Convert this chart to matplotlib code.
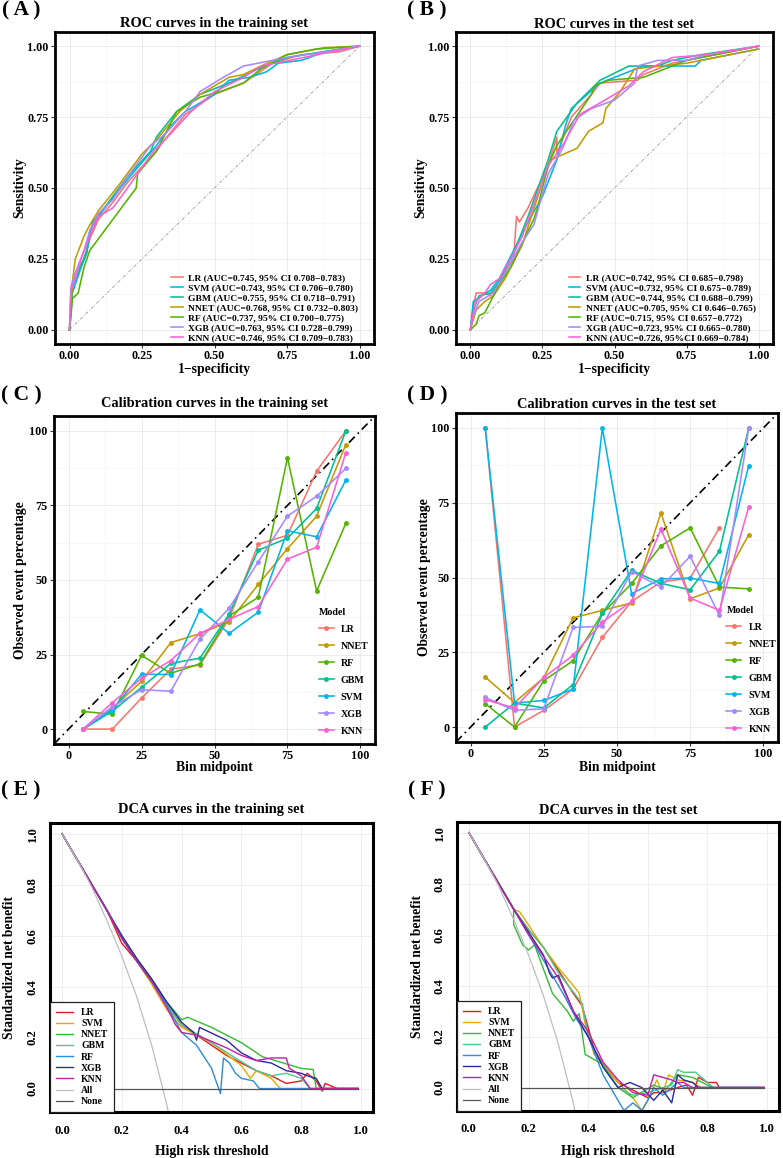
"""
ROC / 校准 / DCA 六联图。
"""

import matplotlib
matplotlib.use("Agg")
import matplotlib.pyplot as plt
from matplotlib.ticker import MultipleLocator

plt.rcParams['font.family'] = ['Liberation Serif', 'DejaVu Serif']
plt.rcParams['font.weight'] = 'bold'
plt.rcParams['axes.unicode_minus'] = True

W, H = 783, 1158

# ---------------- 数据 ----------------
models_roc = ['LR', 'SVM', 'GBM', 'NNET', 'RF', 'XGB', 'KNN']
auc_train = ['AUC=0.745, 95% CI 0.708−0.783', 'AUC=0.743, 95% CI 0.706−0.780',
             'AUC=0.755, 95% CI 0.718−0.791', 'AUC=0.768, 95% CI 0.732−0.803',
             'AUC=0.737, 95% CI 0.700−0.775', 'AUC=0.763, 95% CI 0.728−0.799',
             'AUC=0.746, 95% CI 0.709−0.783']
auc_test = ['AUC=0.742, 95% CI 0.685−0.798', 'AUC=0.732, 95% CI 0.675−0.789',
            'AUC=0.744, 95% CI 0.688−0.799', 'AUC=0.705, 95% CI 0.646−0.765',
            'AUC=0.715, 95% CI 0.657−0.772', 'AUC=0.723, 95% CI 0.665−0.780',
            'AUC=0.726, 95%CI 0.669−0.784']

gg_col = {'LR': '#F8766D', 'NNET': '#C49A00', 'RF': '#53B400', 'GBM': '#00C094',
          'SVM': '#00B6EB', 'XGB': '#A58AFF', 'KNN': '#FB61D7'}

# 训练集 ROC (fpr, tpr)
roc_train_fpr = {
    'LR': [0, 0.005, 0.02, 0.05, 0.07, 0.1, 0.15, 0.2, 0.3, 0.32, 0.4, 0.5, 0.6, 0.7, 0.8, 0.93, 1],
    'SVM': [0, 0.005, 0.01, 0.04, 0.06, 0.07, 0.1, 0.2, 0.3, 0.35, 0.4, 0.5, 0.55, 0.62, 0.68, 0.72, 0.8, 0.88, 1],
    'GBM': [0, 0.01, 0.03, 0.06, 0.08, 0.12, 0.2, 0.28, 0.3, 0.37, 0.45, 0.55, 0.65, 0.75, 0.87, 1],
    'NNET': [0, 0.01, 0.02, 0.05, 0.07, 0.1, 0.17, 0.25, 0.3, 0.38, 0.45, 0.55, 0.6, 0.66, 0.75, 0.88, 1],
    'RF': [0, 0.01, 0.03, 0.05, 0.07, 0.15, 0.23, 0.235, 0.3, 0.37, 0.45, 0.52, 0.6, 0.66, 0.75, 0.85, 1],
    'XGB': [0, 0.005, 0.02, 0.05, 0.07, 0.1, 0.15, 0.2, 0.28, 0.33, 0.4, 0.45, 0.53, 0.6, 0.75, 0.88, 1],
    'KNN': [0, 0.005, 0.02, 0.04, 0.07, 0.1, 0.15, 0.2, 0.29, 0.32, 0.42, 0.5, 0.6, 0.66, 0.76, 0.9, 1],
}
roc_train_tpr = {
    'LR': [0, 0.12, 0.2, 0.25, 0.32, 0.39, 0.45, 0.52, 0.63, 0.66, 0.76, 0.83, 0.87, 0.94, 0.97, 0.98, 1],
    'SVM': [0, 0.05, 0.13, 0.22, 0.27, 0.35, 0.4, 0.53, 0.65, 0.72, 0.77, 0.83, 0.88, 0.89, 0.91, 0.94, 0.95, 0.98, 1],
    'GBM': [0, 0.15, 0.2, 0.28, 0.38, 0.43, 0.54, 0.63, 0.68, 0.77, 0.83, 0.87, 0.92, 0.96, 0.98, 1],
    'NNET': [0, 0.17, 0.25, 0.33, 0.37, 0.42, 0.51, 0.62, 0.67, 0.77, 0.83, 0.89, 0.9, 0.93, 0.97, 0.995, 1],
    'RF': [0, 0.11, 0.13, 0.22, 0.28, 0.39, 0.5, 0.55, 0.63, 0.77, 0.82, 0.84, 0.87, 0.92, 0.97, 0.99, 1],
    'XGB': [0, 0.15, 0.2, 0.28, 0.35, 0.41, 0.46, 0.54, 0.65, 0.69, 0.77, 0.84, 0.89, 0.93, 0.96, 0.98, 1],
    'KNN': [0, 0.14, 0.18, 0.25, 0.33, 0.4, 0.43, 0.5, 0.63, 0.66, 0.77, 0.84, 0.89, 0.93, 0.95, 0.98, 1],
}

# 测试集 ROC
roc_test_fpr = {
    'LR': [0, 0.01, 0.02, 0.05, 0.07, 0.1, 0.15, 0.16, 0.17, 0.2, 0.27, 0.3, 0.3, 0.35, 0.42, 0.45, 0.58, 0.6, 0.7, 0.85, 1],
    'SVM': [0, 0.01, 0.04, 0.07, 0.1, 0.15, 0.2, 0.25, 0.3, 0.33, 0.35, 0.45, 0.55, 0.6, 0.78, 0.8, 1],
    'GBM': [0, 0.01, 0.03, 0.07, 0.1, 0.15, 0.2, 0.27, 0.3, 0.37, 0.45, 0.55, 0.65, 0.7, 0.8, 1],
    'NNET': [0, 0.02, 0.05, 0.08, 0.12, 0.18, 0.25, 0.28, 0.37, 0.41, 0.46, 0.47, 0.52, 0.57, 0.75, 0.85, 1],
    'RF': [0, 0.02, 0.03, 0.05, 0.07, 0.1, 0.14, 0.22, 0.23, 0.27, 0.3, 0.42, 0.43, 0.48, 0.6, 0.7, 0.75, 0.85, 1],
    'XGB': [0, 0.01, 0.03, 0.08, 0.12, 0.18, 0.22, 0.27, 0.32, 0.36, 0.42, 0.5, 0.57, 0.58, 0.65, 0.75, 0.82, 1],
    'KNN': [0, 0.01, 0.02, 0.05, 0.07, 0.1, 0.15, 0.18, 0.27, 0.32, 0.38, 0.45, 0.55, 0.6, 0.7, 0.82, 1],
}
roc_test_tpr = {
    'LR': [0, 0.08, 0.13, 0.13, 0.12, 0.17, 0.25, 0.4, 0.38, 0.43, 0.58, 0.68, 0.62, 0.75, 0.83, 0.87, 0.88, 0.9, 0.94, 0.97, 1],
    'SVM': [0, 0.1, 0.12, 0.14, 0.18, 0.28, 0.38, 0.47, 0.6, 0.72, 0.78, 0.87, 0.91, 0.93, 0.93, 0.95, 0.99],
    'GBM': [0, 0.07, 0.12, 0.13, 0.17, 0.27, 0.4, 0.6, 0.7, 0.8, 0.88, 0.93, 0.93, 0.95, 0.97, 1],
    'NNET': [0, 0.07, 0.1, 0.12, 0.18, 0.3, 0.52, 0.6, 0.64, 0.7, 0.73, 0.78, 0.84, 0.92, 0.94, 0.96, 0.99],
    'RF': [0, 0.02, 0.05, 0.06, 0.1, 0.16, 0.22, 0.39, 0.42, 0.58, 0.65, 0.83, 0.86, 0.88, 0.89, 0.93, 0.95, 0.97, 1],
    'XGB': [0, 0.05, 0.1, 0.13, 0.2, 0.31, 0.37, 0.55, 0.64, 0.74, 0.78, 0.81, 0.87, 0.93, 0.95, 0.95, 0.97, 1],
    'KNN': [0, 0.06, 0.1, 0.13, 0.16, 0.18, 0.27, 0.33, 0.58, 0.65, 0.76, 0.8, 0.86, 0.91, 0.96, 0.97, 1],
}

# 校准曲线
models_cal = ['LR', 'NNET', 'RF', 'GBM', 'SVM', 'XGB', 'KNN']
bins = [5, 15, 25, 35, 45, 55, 65, 75, 85, 95]
cal_train = {
    'LR': [0, 0, 10.4, 20.1, 21.5, 37, 62, 65, 86.5, 100],
    'NNET': [0, 7, 16, 29, 32, 36, 48.5, 60.5, 71.4, 95.4],
    'RF': [5.9, 5, 24.7, 18.7, 21.9, 37.9, 44.2, 91, 46.3, 69],
    'GBM': [0, 6, 14, 22, 23.8, 38.5, 60, 64, 74, 100],
    'SVM': [0, 6.5, 18.4, 18.3, 40, 32.1, 39.2, 66.5, 64.5, 83.5],
    'XGB': [0, 7.5, 13.2, 12.7, 30.1, 40.5, 56.1, 71.4, 78.1, 87.4],
    'KNN': [0, 8.9, 17, 23, 32.1, 36.8, 41.1, 57, 61, 92.7],
}
cal_test = {
    'LR': [100, 0, 5.6, 12.7, 30, 42, 48.5, 49.8, 66.6, None],
    'NNET': [16.7, 8.2, 16.5, 36.5, 39, 41.5, 71.6, 42.9, 46.5, 64.3],
    'RF': [7.8, 0, 15.5, 22.2, 38, 48, 60.6, 66.6, 46.8, 46.2],
    'GBM': [0, 8, 6.4, 14.2, 38, 52.4, 48, 45.9, 58.8, 100],
    'SVM': [100, 8, 8.9, 12.7, 100, 44.6, 49.5, 49.8, 48, 87.4],
    'XGB': [9.9, 5.6, 6.1, 33.3, 33.7, 52, 46.8, 57.1, 37.3, 100],
    'KNN': [9.1, 6.4, 16.6, 24, 35.1, 42, 66.2, 43.1, 39, 73.6],
}

# DCA 曲线
models_dca = ['LR', 'SVM', 'NNET', 'GBM', 'RF', 'XGB', 'KNN']
dca_col = {'LR': '#E31A1C', 'SVM': '#E6AB02', 'NNET': '#33BB33', 'GBM': '#4DC98A',
           'RF': '#2B8CDE', 'XGB': '#2A2A9A', 'KNN': '#C21FA8'}
dca_head_x = [0, 0.05, 0.1, 0.15]
dca_head_y = [1.0, 0.9, 0.8, 0.7]
all_x = [0, 0.05, 0.1, 0.15, 0.2, 0.25, 0.3, 0.35, 0.36]
all_y_train = [1.0, 0.9, 0.79, 0.66, 0.52, 0.36, 0.17, -0.06, -0.12]
all_y_test = [1.0, 0.9, 0.79, 0.66, 0.52, 0.36, 0.17, -0.06, -0.12]

dca_train_x = {
    'LR': [0.2, 0.25, 0.3, 0.35, 0.4, 0.5, 0.55, 0.6, 0.65, 0.7, 0.75, 0.8, 0.82, 0.85, 0.87, 0.88, 0.9, 0.92, 0.99],
    'SVM': [0.2, 0.25, 0.3, 0.35, 0.4, 0.5, 0.6, 0.63, 0.65, 0.7, 0.73, 0.76, 0.99],
    'NNET': [0.2, 0.25, 0.3, 0.35, 0.4, 0.42, 0.5, 0.6, 0.67, 0.8, 0.84, 0.85, 0.99],
    'GBM': [0.2, 0.25, 0.3, 0.35, 0.4, 0.5, 0.58, 0.65, 0.7, 0.75, 0.8, 0.83, 0.99],
    'RF': [0.2, 0.25, 0.3, 0.35, 0.4, 0.45, 0.5, 0.53, 0.54, 0.56, 0.58, 0.6, 0.64, 0.66, 0.99],
    'XGB': [0.2, 0.25, 0.3, 0.35, 0.4, 0.44, 0.45, 0.46, 0.55, 0.6, 0.65, 0.7, 0.75, 0.8, 0.82, 0.85, 0.87, 0.99],
    'KNN': [0.2, 0.25, 0.3, 0.35, 0.38, 0.4, 0.45, 0.55, 0.6, 0.65, 0.7, 0.75, 0.76, 0.8, 0.83, 0.99],
}
dca_train_y = {
    'LR': [0.57, 0.5, 0.42, 0.33, 0.25, 0.17, 0.13, 0.1, 0.07, 0.05, 0.02, 0.03, 0.06, 0.03, -0.01, 0.02, 0.01, 0, 0],
    'SVM': [0.6, 0.5, 0.41, 0.31, 0.24, 0.18, 0.09, 0.04, 0.07, 0.04, 0, 0, 0],
    'NNET': [0.6, 0.51, 0.43, 0.34, 0.27, 0.28, 0.24, 0.18, 0.125, 0.079, 0.075, 0, 0],
    'GBM': [0.59, 0.5, 0.42, 0.33, 0.25, 0.18, 0.12, 0.07, 0.05, 0.06, 0.04, 0, 0],
    'RF': [0.59, 0.5, 0.42, 0.33, 0.22, 0.17, 0.08, -0.02, 0.12, 0.1, 0.06, 0.04, 0.03, 0, 0],
    'XGB': [0.6, 0.51, 0.43, 0.34, 0.26, 0.22, 0.19, 0.24, 0.19, 0.14, 0.11, 0.1, 0.07, 0.06, 0.05, 0.04, 0, 0],
    'KNN': [0.59, 0.5, 0.42, 0.32, 0.25, 0.22, 0.21, 0.16, 0.13, 0.11, 0.12, 0.12, 0.08, 0.05, 0, 0],
}

dca_test_x = {
    'LR': [0.2, 0.25, 0.35, 0.38, 0.42, 0.45, 0.5, 0.55, 0.6, 0.62, 0.65, 0.7, 0.73, 0.75, 0.77, 0.8, 0.83, 0.84, 0.99],
    'SVM': [0.17, 0.25, 0.3, 0.35, 0.37, 0.39, 0.42, 0.45, 0.5, 0.55, 0.58, 0.6, 0.63, 0.65, 0.67, 0.7, 0.75, 0.78, 0.99],
    'NNET': [0.15, 0.18, 0.2, 0.22, 0.28, 0.33, 0.35, 0.37, 0.39, 0.45, 0.5, 0.55, 0.62, 0.66, 0.7, 0.75, 0.8, 0.82, 0.99],
    'GBM': [0.2, 0.25, 0.3, 0.34, 0.38, 0.4, 0.45, 0.5, 0.55, 0.6, 0.65, 0.68, 0.7, 0.72, 0.76, 0.8, 0.82, 0.99],
    'RF': [0.2, 0.28, 0.32, 0.36, 0.4, 0.45, 0.48, 0.5, 0.52, 0.55, 0.58, 0.6, 0.62, 0.65, 0.7, 0.72, 0.99],
    'XGB': [0.2, 0.25, 0.27, 0.28, 0.3, 0.35, 0.4, 0.45, 0.5, 0.54, 0.58, 0.62, 0.65, 0.68, 0.7, 0.72, 0.75, 0.77, 0.99],
    'KNN': [0.2, 0.3, 0.35, 0.4, 0.45, 0.5, 0.55, 0.6, 0.62, 0.65, 0.68, 0.7, 0.72, 0.75, 0.99],
}
dca_test_y = {
    'LR': [0.62, 0.55, 0.37, 0.32, 0.15, 0.09, 0.02, -0.01, -0.04, -0.02, -0.02, 0, 0.01, -0.03, 0.04, 0.02, 0.02, 0, 0],
    'SVM': [0.69, 0.55, 0.47, 0.4, 0.37, 0.25, 0.13, 0.09, 0.02, -0.04, -0.09, -0.05, 0.03, -0.02, 0.05, 0.03, 0.02, 0, 0],
    'NNET': [0.64, 0.56, 0.54, 0.56, 0.37, 0.3, 0.26, 0.29, 0.13, 0.09, 0, -0.04, 0.01, -0.01, 0.05, 0.04, 0.01, 0, 0],
    'GBM': [0.62, 0.55, 0.45, 0.39, 0.33, 0.2, 0.08, 0, -0.03, -0.02, 0, 0.01, 0.07, 0.06, 0.06, 0.02, 0, 0],
    'RF': [0.6, 0.44, 0.36, 0.27, 0.2, 0.05, -0.01, -0.05, -0.09, -0.06, -0.09, -0.05, 0, -0.03, 0.02, 0, 0],
    'XGB': [0.61, 0.52, 0.45, 0.43, 0.44, 0.3, 0.2, 0.08, 0, 0.02, 0, -0.05, -0.01, -0.06, 0.05, 0.03, 0.02, 0, 0],
    'KNN': [0.6, 0.43, 0.3, 0.22, 0.1, 0.03, -0.02, -0.03, 0.05, 0.04, 0.03, 0.02, 0.02, 0, 0],
}


# ---------------- 工具函数 ----------------
def box(l, t, r, b):
    # 像素坐标 -> figure 坐标
    return [l / W, 1 - b / H, (r - l) / W, (b - t) / H]


def ftext(x, y, s, **kw):
    kw.setdefault('fontsize', 9.8)
    kw.setdefault('fontweight', 'bold')
    fig.text(x / W, 1 - y / H, s, ha='center', va='center', **kw)


def gg_style(ax, major, minor):
    ax.set_facecolor('white')
    ax.xaxis.set_major_locator(MultipleLocator(major))
    ax.yaxis.set_major_locator(MultipleLocator(major))
    ax.xaxis.set_minor_locator(MultipleLocator(minor))
    ax.yaxis.set_minor_locator(MultipleLocator(minor))
    ax.grid(which='major', color='#EBEBEB', lw=0.7)
    ax.grid(which='minor', color='#F2F2F2', lw=0.4)
    ax.set_axisbelow(True)
    ax.tick_params(which='major', length=3, width=0.8, color='#333333',
                   labelsize=8.7, pad=1.5)
    ax.tick_params(which='minor', length=0)
    for s in ax.spines.values():
        s.set_linewidth(2)
        s.set_color('black')


def base_style(ax):
    ax.set_xlim(-0.04, 1.04)
    ax.set_ylim(-0.092, 1.042)
    ax.set_xticks([0, 0.2, 0.4, 0.6, 0.8, 1.0])
    ax.set_yticks([0, 0.2, 0.4, 0.6, 0.8, 1.0])
    ax.set_xticklabels(['0.0', '0.2', '0.4', '0.6', '0.8', '1.0'])
    ax.set_yticklabels(['0.0', '0.2', '0.4', '0.6', '0.8', '1.0'],
                       rotation=90, va='center')
    ax.grid(color='#EBEBEB', lw=0.6)
    ax.set_axisbelow(True)
    ax.tick_params(length=0, labelsize=9.2)
    ax.tick_params(axis='x', pad=9)
    ax.tick_params(axis='y', pad=8)
    for s in ax.spines.values():
        s.set_linewidth(2.2)


fig = plt.figure(figsize=(W / 100, H / 100), dpi=100)
fig.patch.set_facecolor('white')


# ---------------- ROC ----------------
def roc_panel(rect, fpr, tpr, aucs, letter, title, lx, ly, lab_x):
    ax = fig.add_axes(box(*rect))
    gg_style(ax, 0.25, 0.125)
    ax.plot([0, 1], [0, 1], color='#9A9A9A', lw=0.6, ls=(0, (4, 2, 1, 2)))
    for m, a in zip(models_roc, aucs):
        ax.plot(fpr[m], tpr[m], color=gg_col[m], lw=1.15,
                label=m + ' (' + a + ')')
    ax.set_xlim(-0.05, 1.05)
    ax.set_ylim(-0.05, 1.05)
    ax.xaxis.set_major_formatter(plt.FuncFormatter(lambda v, p: '%.2f' % v))
    ax.yaxis.set_major_formatter(plt.FuncFormatter(lambda v, p: '%.2f' % v))
    ax.legend(loc='lower left', bbox_to_anchor=(lx, ly), frameon=False,
              fontsize=6.8, handlelength=1.2, handletextpad=0.6,
              labelspacing=0.15, borderpad=0, borderaxespad=0)
    cx = (rect[0] + rect[2]) / 2
    ftext(lab_x, 10, letter, fontsize=15.5)
    ftext(cx, 24, title, fontsize=10.4)
    ftext(cx, 369, '1−specificity')
    ftext(rect[0] - 35, (rect[1] + rect[3]) / 2, 'Sensitivity', rotation=90)
    return ax


roc_panel((55, 32, 374, 344), roc_train_fpr, roc_train_tpr, auc_train,
          '( A )', 'ROC curves in the training set', 0.365, 0.005, 21)
roc_panel((456, 32, 773, 344), roc_test_fpr, roc_test_tpr, auc_test,
          '( B )', 'ROC curves in the test set', 0.355, 0.005, 427)


# ---------------- 校准曲线 ----------------
def cal_panel(rect, data, letter, title, lx, lab_x, ylab_x):
    ax = fig.add_axes(box(*rect))
    gg_style(ax, 25, 12.5)
    ax.axline((0, 0), (1, 1), color='black', lw=1.2, ls=(0, (5, 2.5, 1, 2.5)))
    for m in models_cal:
        xs = [b for b, v in zip(bins, data[m]) if v is not None]
        ys = [v for v in data[m] if v is not None]
        ax.plot(xs, ys, color=gg_col[m], lw=1.15, marker='o', ms=2.5, label=m)
    ax.set_xlim(-5, 105)
    ax.set_ylim(-5, 105)
    ax.xaxis.set_major_formatter(plt.FuncFormatter(lambda v, p: '%d' % v))
    ax.yaxis.set_major_formatter(plt.FuncFormatter(lambda v, p: '%d' % v))
    leg = ax.legend(loc='lower left', bbox_to_anchor=(lx, 0.025), frameon=False,
                    fontsize=7.2, title='Model', title_fontsize=7.2,
                    handlelength=1.5, handletextpad=0.7, labelspacing=0.8,
                    borderpad=0, borderaxespad=0)
    leg.get_title().set_fontweight('bold')
    leg._legend_box.align = 'left'
    cx = (rect[0] + rect[2]) / 2
    ftext(lab_x, 395, letter, fontsize=15.5)
    ftext(cx, 404, title, fontsize=10.4)
    ftext(cx, 768, 'Bin midpoint')
    ftext(ylab_x, (rect[1] + rect[3]) / 2, 'Observed event percentage', rotation=90)
    return ax


cal_panel((54, 416, 375, 744), cal_train, '( C )',
          'Calibration curves in the training set', 0.825, 21, 21)
cal_panel((456, 413, 778, 742), cal_test, '( D )',
          'Calibration curves in the test set', 0.84, 427, 424)


# ---------------- DCA ----------------
def dca_panel(rect, xs, ys, all_y, letter, title, lab_x, ylab_x):
    ax = fig.add_axes(box(*rect))
    base_style(ax)
    for m in models_dca:
        ax.plot(dca_head_x + xs[m], dca_head_y + ys[m], color=dca_col[m], lw=1.0, label=m)
    ax.plot(all_x, all_y, color='#BEBEBE', lw=0.9, label='All')
    ax.plot([0, 0.99], [0, 0], color='#555555', lw=0.9, label='None')
    leg = ax.legend(loc='lower left', fontsize=7, handlelength=1.8,
                    handletextpad=0.8, labelspacing=0.22, borderpad=0.6,
                    borderaxespad=0, fancybox=False, framealpha=1,
                    edgecolor='#222222')
    leg.get_frame().set_linewidth(0.9)
    cx = (rect[0] + rect[2]) / 2
    ftext(lab_x, 790, letter, fontsize=15.5)
    ftext(cx, 810, title, fontsize=10.4)
    ftext(cx, 1151, 'High risk threshold')
    ftext(ylab_x, (rect[1] + rect[3]) / 2, 'Standardized net benefit', rotation=90)
    return ax


dca_panel((50, 823, 373, 1112), dca_train_x, dca_train_y, all_y_train,
          '( E )', 'DCA curves in the training set', 21, 10)
dca_panel((457, 822, 779, 1111), dca_test_x, dca_test_y, all_y_test,
          '( F )', 'DCA curves in the test set', 427, 417)

fig.savefig('out.png', dpi=100)
